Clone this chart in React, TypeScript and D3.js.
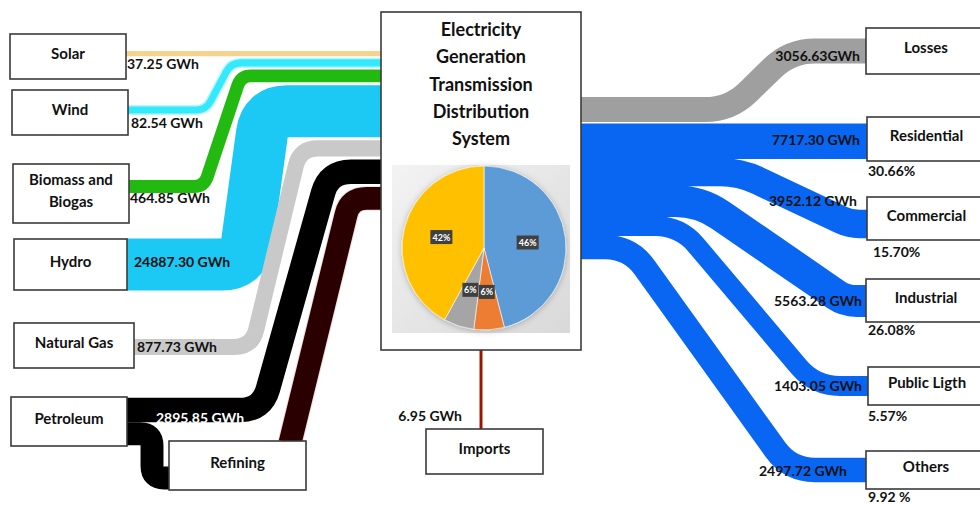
import React from "react";
import * as d3 from "d3";

// Energy sources feeding the electricity system (GWh)
const sourceNames = ["Solar", "Wind", "Biomass and\nBiogas", "Hydro", "Natural Gas", "Petroleum"];
const sourceGWh = [37.25, 82.54, 464.85, 24887.3, 877.73, 2895.85];
// Unlabelled petroleum share routed through refining (estimated)
const refiningGWh = 2400;
const importsGWh = 6.95;

// Destinations of the electricity produced (GWh) and their shares (%)
const sinkNames = ["Losses", "Residential", "Commercial", "Industrial", "Public Ligth", "Others"];
const sinkGWh = [3056.63, 7717.3, 3952.12, 5563.28, 1403.05, 2497.72];
const sinkUnit = ["GWh", " GWh", " GWh", " GWh", " GWh", " GWh"];
const sinkShare = [null, 30.66, 15.7, 26.08, 5.57, 9.92];
const shareUnit = ["%", "%", "%", "%", "%", " %"];

// Generation mix shown inside the central node (%)
const mixShares = [46, 6, 6, 42];
const mixColors = ["#5B9BD5", "#ED7D31", "#A5A5A5", "#FFC000"];

const titleLines = ["Electricity", "Generation", "Transmission", "Distribution", "System"];

const W = 980;
const H = 505;
const FONT = "Lato, 'Open Sans', sans-serif";

type Pt = [number, number];

// Polyline with rounded (filleted) corners, built with d3.path
function roundedPath(pts: Pt[], r: number): string {
  const p = d3.path();
  p.moveTo(pts[0][0], pts[0][1]);
  for (let i = 1; i < pts.length - 1; i++) {
    const [px, py] = pts[i - 1];
    const [cx, cy] = pts[i];
    const [nx, ny] = pts[i + 1];
    const l1 = Math.hypot(cx - px, cy - py);
    const l2 = Math.hypot(nx - cx, ny - cy);
    if (l1 === 0 || l2 === 0) continue;
    const rr = Math.min(r, l1 / 2, l2 / 2);
    const sx = cx - ((cx - px) / l1) * rr;
    const sy = cy - ((cy - py) / l1) * rr;
    const ex = cx + ((nx - cx) / l2) * rr;
    const ey = cy + ((ny - cy) / l2) * rr;
    p.lineTo(sx, sy);
    p.quadraticCurveTo(cx, cy, ex, ey);
  }
  const last = pts[pts.length - 1];
  p.lineTo(last[0], last[1]);
  return p.toString();
}

// Band thickness from energy value
const width = d3.scalePow().exponent(0.35).domain([0, d3.max(sourceGWh) as number]).range([0, 52]);

const fmt = d3.format(".2f");

const sourceColors = ["#F3D38E", "#35E9FC", "#22BA10", "#1CC8F4", "#C9C9C9", "#000000"];
const refiningColor = "#2B0000";
const importsColor = "#9B1400";
const lossColor = "#9F9F9F";
const useColor = "#0866F2";

// node boxes
const srcBoxes = [
  { x: 10, y: 34, w: 116, h: 45 },
  { x: 12, y: 90, w: 116, h: 45 },
  { x: 13, y: 164, w: 116, h: 59 },
  { x: 14, y: 239, w: 113, h: 51 },
  { x: 14, y: 323, w: 120, h: 45 },
  { x: 11, y: 397, w: 116, h: 49 },
];
const refBox = { x: 169, y: 441, w: 137, h: 49 };
const hubBox = { x: 381, y: 12, w: 200, h: 338 };
const impBox = { x: 426, y: 429, w: 117, h: 45 };
const sinkBoxes = [
  { x: 866, y: 28, w: 120, h: 46 },
  { x: 867, y: 117, w: 120, h: 44 },
  { x: 867, y: 197, w: 120, h: 43 },
  { x: 866, y: 279, w: 120, h: 43 },
  { x: 868, y: 367, w: 120, h: 38 },
  { x: 866, y: 451, w: 120, h: 38 },
];

// routing of each source band: left end y, bend start/end x, corner radius
const srcRoutes = [
  { y0: 0, xa: 0, xb: 0, r: 0 },
  { y0: 110, xa: 206, xb: 231, r: 10 },
  { y0: 186.5, xa: 204, xb: 241, r: 10 },
  { y0: 264.5, xa: 244, xb: 265, r: 22 },
  { y0: 347, xa: 252, xb: 300, r: 18 },
  { y0: 410, xa: 262, xb: 329, r: 22 },
];
const sinkRoutes = [
  { y1: 51, xa: 730, xb: 790, r: 25 },
  { y1: 0, xa: 0, xb: 0, r: 0 },
  { y1: 224, xa: 740, xb: 850, r: 20 },
  { y1: 301, xa: 700, xb: 845, r: 25 },
  { y1: 386, xa: 680, xb: 815, r: 25 },
  { y1: 470, xa: 630, xb: 790, r: 25 },
];

function Box({ b, lines, size = 15 }: { b: { x: number; y: number; w: number; h: number }; lines: string[]; size?: number }) {
  const cx = b.x + b.w / 2;
  const cy = b.y + b.h / 2 - 3;
  const lh = size * 1.5;
  const first = cy - ((lines.length - 1) * lh) / 2;
  const tx = b.x + b.w > W ? b.x + Math.min(b.w, W - b.x + 6) / 2 : cx;
  return (
    <g>
      <rect x={b.x} y={b.y} width={b.w} height={b.h} fill="#fff" stroke="#3a3a3a" strokeWidth={1.6} />
      {lines.map((l, i) => (
        <text key={i} x={tx} y={first + i * lh + size * 0.36} textAnchor="middle" fontSize={size} fontWeight={700} fill="#111" fontFamily={FONT}>
          {l}
        </text>
      ))}
    </g>
  );
}

export default function App() {
  const hubL = hubBox.x;
  const hubR = hubBox.x + hubBox.w;

  // stack inflows on the hub's left edge
  const inWidths = [...sourceGWh.map((v) => width(v)), width(refiningGWh)];
  let yy = 51;
  const inCenters = inWidths.map((w) => {
    const c = yy + w / 2;
    yy += w + 3;
    return c;
  });

  // stack outflows on the hub's right edge
  const outWidths = sinkGWh.map((v) => width(v));
  const outCenters: number[] = [];
  let yo = 124 - 2 - outWidths[0];
  outWidths.forEach((w, i) => {
    outCenters.push(yo + w / 2);
    yo += w + (i === 0 ? 2 : 0);
  });

  const srcPaths = sourceGWh.map((_, i) => {
    const b = srcBoxes[i];
    const x0 = b.x + b.w - 1;
    const yc = inCenters[i];
    const r = srcRoutes[i];
    if (i === 0) return roundedPath([[x0, yc], [hubL + 2, yc]], 0);
    return roundedPath([[x0, r.y0], [r.xa, r.y0], [r.xb, yc], [hubL + 2, yc]], r.r);
  });

  const petW = inWidths[5];
  const refW = inWidths[6];
  const petTop = srcRoutes[5].y0 - petW / 2;
  const branchC = petTop + petW + refW / 2;
  const branchPath = roundedPath([[126, branchC], [152, branchC], [152, 478], [182, 478]], 12);
  const refC = inCenters[6];
  const refPath = roundedPath([[290, refBox.y + 2], [350, refC], [hubL + 2, refC]], 28);

  const sinkPaths = sinkGWh.map((_, i) => {
    const c0 = outCenters[i];
    const r = sinkRoutes[i];
    const x1 = sinkBoxes[i].x + 2;
    if (i === 1) return roundedPath([[hubR - 2, c0], [x1, c0]], 0);
    return roundedPath([[hubR - 2, c0], [r.xa, c0], [r.xb, r.y1], [x1, r.y1]], r.r);
  });

  // pie of the generation mix
  const pieCx = 484;
  const pieCy = 248;
  const pieR = 82;
  const arcs = d3.pie<number>().sort(null)(mixShares);
  const arcGen = d3.arc<d3.PieArcDatum<number>>().innerRadius(0).outerRadius(pieR);
  const labelArc = d3.arc<d3.PieArcDatum<number>>().innerRadius(44).outerRadius(44);

  const srcLabelPos = [
    { x: 127, y: 69, fill: "#111" },
    { x: 131, y: 128, fill: "#111" },
    { x: 130, y: 203, fill: "#111" },
    { x: 134, y: 267, fill: "#111" },
    { x: 137, y: 352, fill: "#111" },
    { x: 156, y: 423, fill: "#fff" },
  ];
  const sinkLabelPos = [
    { x: 860, y: 61 },
    { x: 860, y: 145 },
    { x: 857, y: 206 },
    { x: 862, y: 306 },
    { x: 862, y: 391 },
    { x: 847, y: 476 },
  ];
  const shareLabelPos = [null, { x: 868, y: 176 }, { x: 873, y: 257 }, { x: 868, y: 335 }, { x: 868, y: 421 }, { x: 868, y: 502 }];

  return (
    <svg width={W} height={H} viewBox={`0 0 ${W} ${H}`} style={{ position: "absolute", left: 0, top: 0, background: "#fff" }} fontFamily={FONT}>
      <defs>
        <linearGradient id="pieBg" x1="0" y1="0" x2="1" y2="1">
          <stop offset="0" stopColor="#f3f3f3" />
          <stop offset="1" stopColor="#d9d9d9" />
        </linearGradient>
        <filter id="pieShadow" x="-20%" y="-20%" width="140%" height="140%">
          <feDropShadow dx="0" dy="1" stdDeviation="3" floodColor="#000" floodOpacity="0.25" />
        </filter>
      </defs>
      <rect x={0} y={0} width={W} height={H} fill="#fff" />

      {/* inflow bands */}
      <path d={srcPaths[1]} fill="none" stroke="#B8F6FF" strokeWidth={inWidths[1] + 3} />
      {srcPaths.map((d, i) => (
        <path key={i} d={d} fill="none" stroke={sourceColors[i]} strokeWidth={inWidths[i]} />
      ))}
      <path d={branchPath} fill="none" stroke={sourceColors[5]} strokeWidth={refW} />
      <path d={refPath} fill="none" stroke="#f2dcdc" strokeWidth={refW + 2} />
      <path d={refPath} fill="none" stroke={refiningColor} strokeWidth={refW} />

      {/* imports */}
      <line x1={481} x2={481} y1={hubBox.y + hubBox.h} y2={impBox.y} stroke={importsColor} strokeWidth={width(importsGWh)} />

      {/* outflow bands; consumer bands overlap slightly so the bundle has no seams */}
      {sinkPaths.map((d, i) => (
        <path key={i} d={d} fill="none" stroke={i === 0 ? lossColor : useColor} strokeWidth={outWidths[i] + (i === 0 ? 0 : 1)} />
      ))}

      {/* source nodes */}
      {srcBoxes.map((b, i) => (
        <Box key={i} b={b} lines={sourceNames[i].split("\n")} />
      ))}
      <Box b={refBox} lines={["Refining"]} />
      <Box b={impBox} lines={["Imports"]} />
      {sinkBoxes.map((b, i) => (
        <Box key={i} b={b} lines={[sinkNames[i]]} />
      ))}

      {/* hub */}
      <rect x={hubBox.x} y={hubBox.y} width={hubBox.w} height={hubBox.h} fill="#fff" stroke="#3a3a3a" strokeWidth={1.6} />
      {titleLines.map((t, i) => (
        <text key={t} x={hubBox.x + hubBox.w / 2} y={36 + i * 27.3} textAnchor="middle" fontSize={18} fontWeight={700} fill="#111">
          {t}
        </text>
      ))}
      <rect x={392} y={165} width={178} height={168} fill="url(#pieBg)" />
      <g transform={`translate(${pieCx},${pieCy})`}>
        <g filter="url(#pieShadow)">
          {arcs.map((a, i) => (
            <path key={i} d={arcGen(a) as string} fill={mixColors[i]} stroke="#fff" strokeWidth={0.6} />
          ))}
        </g>
        {arcs.map((a, i) => {
          const [lx, ly] = labelArc.centroid(a);
          const txt = `${mixShares[i]}%`;
          const bw = txt.length * 6 + 4;
          return (
            <g key={i} transform={`translate(${lx},${ly})`}>
              <rect x={-bw / 2} y={-7} width={bw} height={14} fill="#404040" />
              <text y={3.5} textAnchor="middle" fontSize={9} fontWeight={700} fill="#fff">
                {txt}
              </text>
            </g>
          );
        })}
      </g>

      {/* value labels */}
      {sourceGWh.map((v, i) => (
        <text key={i} x={srcLabelPos[i].x} y={srcLabelPos[i].y} fontSize={14} fontWeight={700} fill={srcLabelPos[i].fill}>
          {`${fmt(v)} GWh`}
        </text>
      ))}
      <text x={462} y={421} textAnchor="end" fontSize={14} fontWeight={700} fill="#111">
        {`${fmt(importsGWh)} GWh`}
      </text>
      {sinkGWh.map((v, i) => (
        <text key={i} x={sinkLabelPos[i].x} y={sinkLabelPos[i].y} textAnchor="end" fontSize={14} fontWeight={700} fill="#111">
          {`${fmt(v)}${sinkUnit[i]}`}
        </text>
      ))}
      {sinkShare.map((s, i) =>
        s === null ? null : (
          <text key={i} x={shareLabelPos[i]!.x} y={shareLabelPos[i]!.y} fontSize={14} fontWeight={700} fill="#111">
            {`${fmt(s)}${shareUnit[i]}`}
          </text>
        )
      )}
    </svg>
  );
}
